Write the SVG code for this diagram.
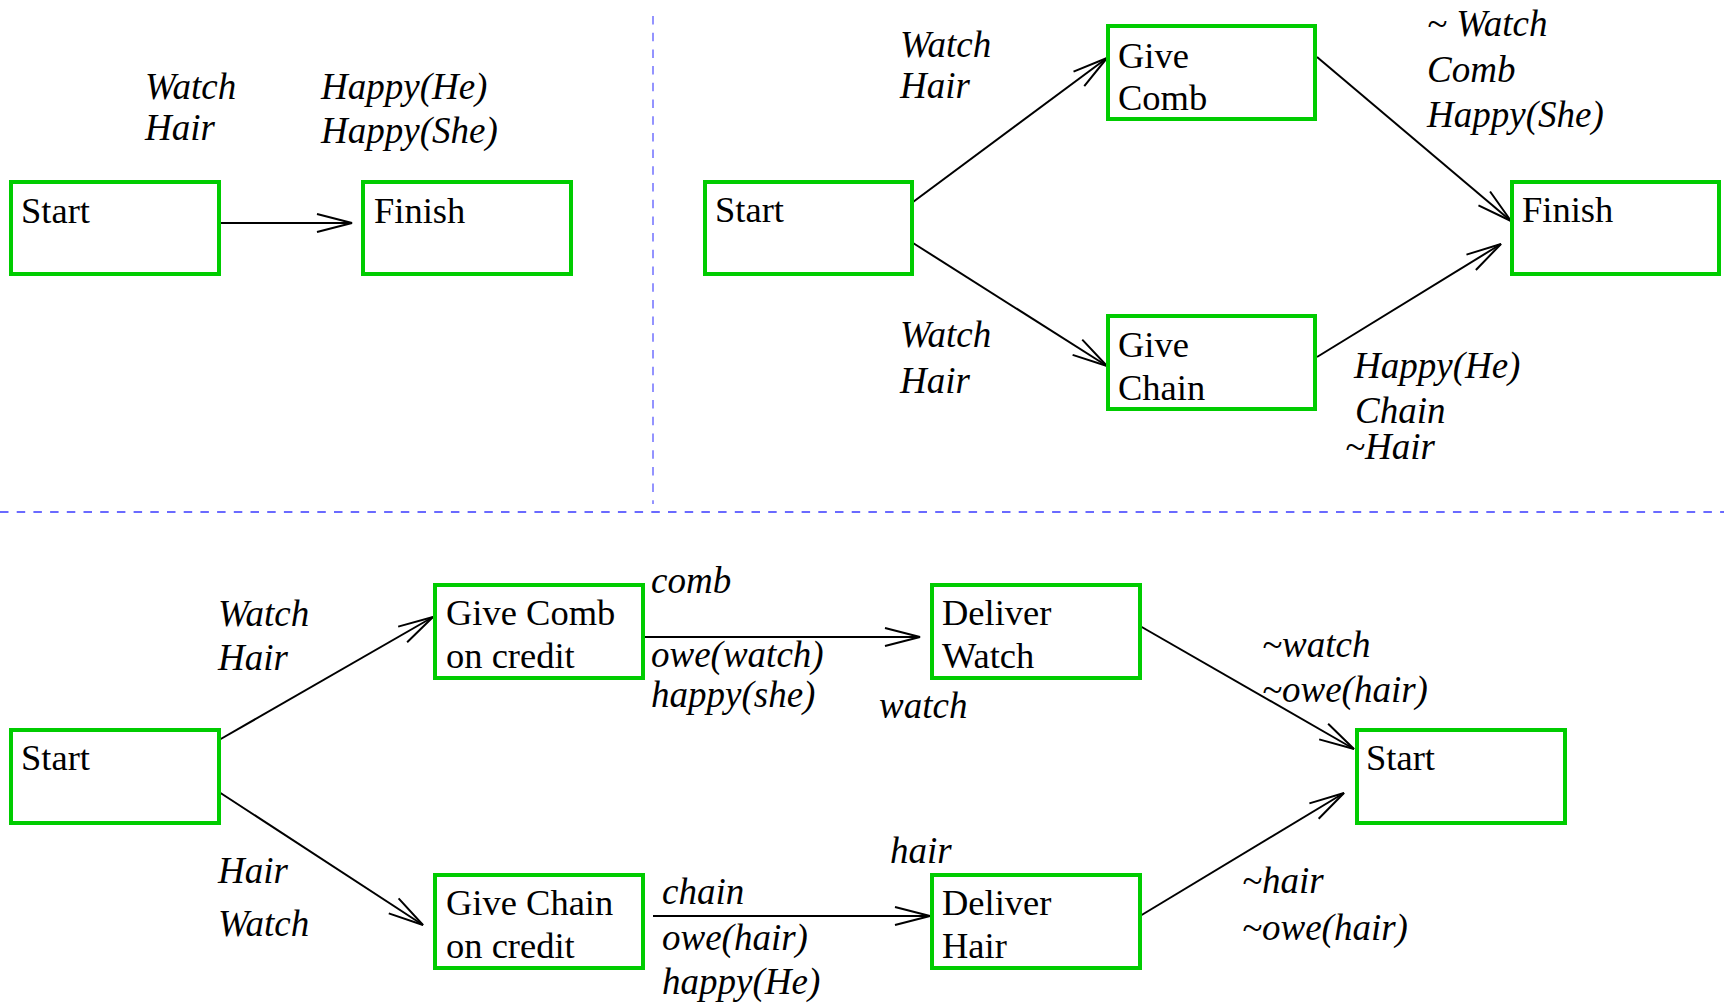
<svg xmlns="http://www.w3.org/2000/svg" width="1724" height="1007" viewBox="0 0 1724 1007">
<style>
  .box { fill: #ffffff; stroke: #00cc00; stroke-width: 4; }
  .bt { font-family: "Liberation Serif", "Times New Roman", serif; font-size: 36.5px; fill: #000; }
  .lb { font-family: "Liberation Serif", "Times New Roman", serif; font-size: 37px; font-style: italic; fill: #000; }
  .edge { stroke: #000; stroke-width: 2; fill: none; marker-end: url(#arr); }
  .vsep { stroke: #7070ff; stroke-width: 1.5; stroke-dasharray: 8.5 8.2; fill: none; }
  .hsep { stroke: #3a3aff; stroke-width: 1.3; stroke-dasharray: 8.5 8.2; fill: none; }
</style>
<defs>
  <marker id="arr" markerUnits="userSpaceOnUse" markerWidth="40" markerHeight="24" viewBox="-38 -12 40 24" refX="0" refY="0" orient="auto">
    <path d="M-35,-9 L0,0 L-35,9" fill="none" stroke="#000" stroke-width="2"/>
  </marker>
</defs>
<rect width="1724" height="1007" fill="#ffffff"/>

<g id="separators">
  <line class="vsep" x1="653" y1="16" x2="653" y2="504"/>
  <line class="hsep" x1="0" y1="512" x2="1724" y2="512"/>
</g>

<g id="connectors">
  <line class="edge" x1="219" y1="223" x2="352" y2="223"/>
  <line class="edge" x1="913" y1="202" x2="1107" y2="58"/>
  <line class="edge" x1="913" y1="243" x2="1107" y2="366"/>
  <line class="edge" x1="1317" y1="57" x2="1511" y2="221"/>
  <line class="edge" x1="1317" y1="357" x2="1501" y2="244"/>
  <line class="edge" x1="219" y1="740" x2="433" y2="617"/>
  <line class="edge" x1="219" y1="792" x2="423" y2="925"/>
  <line class="edge" x1="643" y1="637" x2="920" y2="637"/>
  <line class="edge" x1="653" y1="916" x2="930" y2="916"/>
  <line class="edge" x1="1140" y1="626" x2="1354" y2="749"/>
  <line class="edge" x1="1140" y1="916" x2="1344" y2="793"/>
</g>

<g id="labels">
  <text class="lb" x="145" y="99">Watch</text>
  <text class="lb" x="145" y="140">Hair</text>
  <text class="lb" x="321" y="99">Happy(He)</text>
  <text class="lb" x="321" y="143">Happy(She)</text>

  <text class="lb" x="900" y="57">Watch</text>
  <text class="lb" x="900" y="98">Hair</text>
  <text class="lb" x="900" y="347">Watch</text>
  <text class="lb" x="900" y="393">Hair</text>
  <text class="lb" x="1427" y="36">~ Watch</text>
  <text class="lb" x="1427" y="82">Comb</text>
  <text class="lb" x="1427" y="127">Happy(She)</text>
  <text class="lb" x="1354" y="378">Happy(He)</text>
  <text class="lb" x="1355" y="423">Chain</text>
  <text class="lb" x="1345" y="459">~Hair</text>

  <text class="lb" x="218" y="626">Watch</text>
  <text class="lb" x="218" y="670">Hair</text>
  <text class="lb" x="218" y="883">Hair</text>
  <text class="lb" x="218" y="936">Watch</text>
  <text class="lb" x="651" y="593">comb</text>
  <text class="lb" x="651" y="667">owe(watch)</text>
  <text class="lb" x="651" y="707">happy(she)</text>
  <text class="lb" x="662" y="904">chain</text>
  <text class="lb" x="662" y="950">owe(hair)</text>
  <text class="lb" x="662" y="994">happy(He)</text>
  <text class="lb" x="879" y="718">watch</text>
  <text class="lb" x="890" y="863">hair</text>
  <text class="lb" x="1262" y="657">~watch</text>
  <text class="lb" x="1262" y="702">~owe(hair)</text>
  <text class="lb" x="1242" y="893">~hair</text>
  <text class="lb" x="1242" y="940">~owe(hair)</text>
</g>

<g id="p1-start"><rect class="box" x="11" y="182" width="208" height="92"/><text class="bt" x="21" y="223">Start</text></g>
<g id="p1-finish"><rect class="box" x="363" y="182" width="208" height="92"/><text class="bt" x="374" y="223">Finish</text></g>

<g id="p2-start"><rect class="box" x="705" y="182" width="207" height="92"/><text class="bt" x="715" y="222">Start</text></g>
<g id="p2-givecomb"><rect class="box" x="1108" y="26" width="207" height="93"/><text class="bt" x="1118" y="68">Give</text><text class="bt" x="1118" y="110">Comb</text></g>
<g id="p2-givechain"><rect class="box" x="1108" y="316" width="207" height="93"/><text class="bt" x="1118" y="357">Give</text><text class="bt" x="1118" y="400">Chain</text></g>
<g id="p2-finish"><rect class="box" x="1512" y="182" width="207" height="92"/><text class="bt" x="1522" y="222">Finish</text></g>

<g id="p3-start"><rect class="box" x="11" y="730" width="208" height="93"/><text class="bt" x="21" y="770">Start</text></g>
<g id="p3-givecomb"><rect class="box" x="435" y="585" width="208" height="93"/><text class="bt" x="446" y="625">Give Comb</text><text class="bt" x="446" y="668">on credit</text></g>
<g id="p3-givechain"><rect class="box" x="435" y="875" width="208" height="93"/><text class="bt" x="446" y="915">Give Chain</text><text class="bt" x="446" y="958">on credit</text></g>
<g id="p3-deliverwatch"><rect class="box" x="932" y="585" width="208" height="93"/><text class="bt" x="942" y="625">Deliver</text><text class="bt" x="942" y="668">Watch</text></g>
<g id="p3-deliverhair"><rect class="box" x="932" y="875" width="208" height="93"/><text class="bt" x="942" y="915">Deliver</text><text class="bt" x="942" y="958">Hair</text></g>
<g id="p3-start2"><rect class="box" x="1357" y="730" width="208" height="93"/><text class="bt" x="1366" y="770">Start</text></g>
</svg>
